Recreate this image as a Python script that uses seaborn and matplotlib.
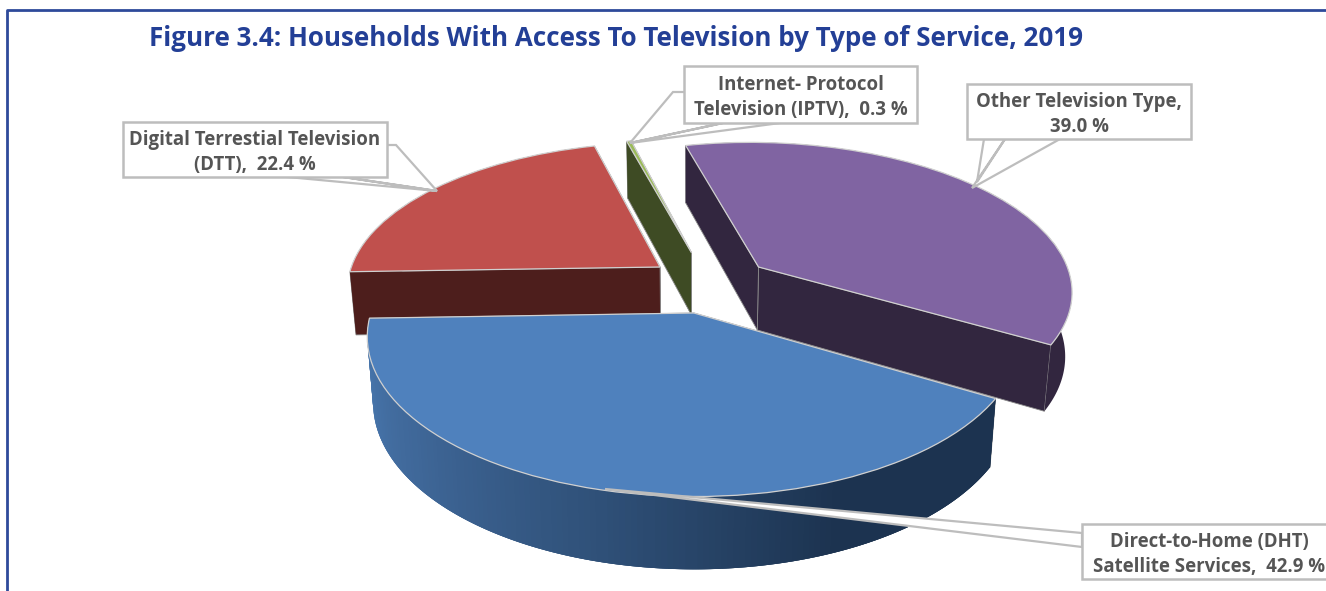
import numpy as np
import matplotlib
matplotlib.use('Agg')
import matplotlib.pyplot as plt
import matplotlib.transforms as mtransforms
import seaborn as sns

# Data
services = ['DTT', 'DHT', 'Other', 'IPTV']
shares = [22.4, 42.9, 39.0, 0.3]
labels = ['Digital Terrestial Television\n(DTT),  22.4 %',
          'Direct-to-Home (DHT)\nSatellite Services,  42.9 %',
          'Other Television Type,\n39.0 %',
          'Internet- Protocol\nTelevision (IPTV),  0.3 %']
title = 'Figure 3.4: Households With Access To Television by Type of Service, 2019'

top_colors = ['#C0504D', '#4F81BD', '#8064A2', '#9BBB59']
side_colors = ['#4D1E1C', '#1C3350', '#32263F', '#3E4B24']

# Layout of the fake 3D pie
cx, cy = 690, 313
fx, fy, persp, depth = 323, 156, 0.15, 65
# how far each slice is pulled out, in pie units
pull = {'DTT': (-0.097, 0.3085), 'DHT': (0.012, 0), 'Other': (0.222, 0.3085), 'IPTV': (0.005, 0.41)}
order = {'DTT': 1, 'IPTV': 2, 'DHT': 3, 'Other': 4}
radii = {'DTT': 1, 'DHT': 1, 'Other': 1, 'IPTV': 0.94}

# box (left, top, right, bottom), then leader outline
boxes = {
    'DTT': ((123, 122, 387, 177), [(387, 145), (396, 145), (437, 191), (343, 177), (437, 191), (277, 176)]),
    'DHT': ((1082, 524, 1345, 579), [(1082, 533), (605, 489), (1082, 547)]),
    'Other': ((967, 84, 1191, 139), [(984, 139), (977, 182), (1005, 139), (972, 188), (1060, 139)]),
    'IPTV': ((684, 66, 917, 123), [(684, 92), (673, 92), (630, 143), (723, 123), (630, 143), (780, 123)]),
}


def project(x, y, z, ox, oy):
    w = 1 + persp * (y + oy)
    px = cx + (x + ox) * fx / w * (1 - 0.018 * z)
    py = cy - (y + oy) * fy / w + z * depth / w ** 0.7
    return px, py


class Persp(mtransforms.Transform):
    input_dims = 2
    output_dims = 2
    is_separable = False

    def __init__(self, ox, oy):
        super().__init__()
        self.ox = ox
        self.oy = oy

    def transform_non_affine(self, values):
        values = np.asarray(values)
        px, py = project(values[:, 0], values[:, 1], 0, self.ox, self.oy)
        return np.column_stack([px, py])


sns.set_theme(style='white')
plt.rcParams['font.family'] = ['Open Sans', 'DejaVu Sans']

fig = plt.figure(figsize=(13.26, 5.91), dpi=100)
ax = fig.add_axes([0, 0, 1, 1])

wedges, _ = ax.pie(shares, colors=top_colors, startangle=104.8, radius=1,
                   wedgeprops={'edgecolor': '#D0D0D0', 'linewidth': 0.9})
ax.set_aspect('auto')
ax.set_xlim(0, 1326)
ax.set_ylim(591, 0)
ax.axis('off')

for name, wedge, side in zip(services, wedges, side_colors):
    ox, oy = pull[name]
    base = order[name]
    r = radii[name]
    wedge.set_radius(r)
    wedge.set_transform(Persp(ox, oy) + ax.transData)
    wedge.set_zorder(base + 0.5)
    wedge.set_clip_on(False)

    theta = np.radians(np.linspace(wedge.theta1, wedge.theta2, 161))
    rx, ry = r * np.cos(theta), r * np.sin(theta)

    # the two cut faces
    for i in (0, -1):
        xs = np.array([0, rx[i], rx[i], 0])
        ys = np.array([0, ry[i], ry[i], 0])
        zs = np.array([0, 0, 1, 1])
        px, py = project(xs, ys, zs, ox, oy)
        ax.fill(px, py, color=side, ec='#8A8A8A', lw=0.6, zorder=base)

    # the rim
    if name == 'DHT':
        shades = sns.blend_palette(['#4A7AB2', '#3F6798', '#2F5078', '#1C3350', '#1C3350'], len(theta) - 1)
        for i in range(len(theta) - 1):
            # runs on under the next strip so no seams show
            j = min(i + 3, len(theta) - 1)
            xs = np.array([rx[i], rx[j], rx[j], rx[i]])
            ys = np.array([ry[i], ry[j], ry[j], ry[i]])
            px, py = project(xs, ys, np.array([0, 0, 1, 1]), ox, oy)
            ax.fill(px, py, color=shades[i], lw=0, zorder=base + 0.1)
    else:
        xs = np.r_[rx, rx[::-1]]
        ys = np.r_[ry, ry[::-1]]
        zs = np.r_[np.zeros(len(rx)), np.ones(len(rx))]
        px, py = project(xs, ys, zs, ox, oy)
        ax.fill(px, py, color=side, lw=0, zorder=base + 0.1)

# Labels with their callouts
for name, label in zip(services, labels):
    (left, top, right, bottom), leader = boxes[name]
    lx, ly = zip(*leader)
    ax.fill(lx, ly, fc='white', ec='#BDBDBD', lw=1.6, zorder=10, clip_on=True)
    ax.fill([left, right, right, left], [top, top, bottom, bottom], fc='white', ec='#BDBDBD', lw=1.8, zorder=11)
    tx = (left + right) / 2
    if name == 'DHT':
        tx = 1209
    ax.text(tx, (top + bottom) / 2 + 3, label, ha='center', va='center', fontsize=13.4,
            fontweight='bold', color='#555555', linespacing=1.36, zorder=12)

# Title and frame
ax.text(149, 38, title, ha='left', va='center', fontsize=18.76, fontweight='bold', color='#233F96', zorder=12)
ax.plot([7, 7, 1326], [591, 10, 10], color='#2E4A9A', lw=2, zorder=12)

plt.savefig('out.png', dpi=100)
